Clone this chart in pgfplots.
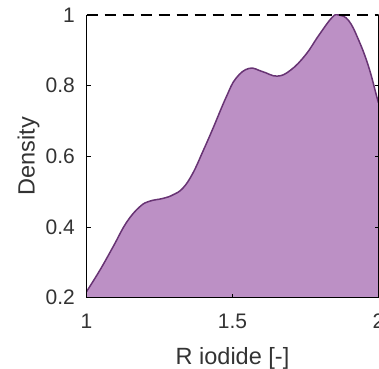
\documentclass[border=0pt]{standalone}
\usepackage{pgfplots}
\pgfplotsset{compat=1.18}
\usepackage{fontspec}
\setmainfont{Liberation Sans}
\definecolor{fillc}{RGB}{188,144,197}
\definecolor{linec}{RGB}{104,52,116}
\begin{document}
\begin{tikzpicture}
\begin{axis}[
  name=ax,
  scale only axis,
  width=292pt, height=282.7pt,
  xmin=1, xmax=2, ymin=0.2, ymax=1,
  axis on top,
  axis x line*=bottom,
  axis y line*=box,
  axis line style={-, line width=0.9pt, black},
  xtick={1,1.5,2}, ytick={0.2,0.4,0.6,0.8,1},
  yticklabels={0.2,0.4,0.6,0.8,1},
  xticklabels={1,1.5,2},
  tick align=inside,
  major tick length=4pt,
  tick style={black, line width=0.8pt},
  /pgf/number format/assume math mode=true,
  tick label style={font=\fontsize{21}{25}\selectfont, text=black!80},
  yticklabel style={anchor=east, inner sep=0pt, xshift=-11.5pt},
  xticklabel style={anchor=north, inner sep=0pt, yshift=-16pt},
  xlabel={R iodide [-]},
  ylabel={Density},
  every axis x label/.style={at={(axis description cs:0.5,-0.238)}, anchor=base, font=\fontsize{23.5}{28}\selectfont, text=black!80},
  every axis y label/.style={at={(axis description cs:-0.178,0.5)}, rotate=90, anchor=base, font=\fontsize{23.5}{28}\selectfont, text=black!80},
]
\addplot[fill=fillc, draw=none, smooth, tension=0.7] coordinates {
(1.000,0.217) (1.046,0.278) (1.091,0.344) (1.137,0.413) (1.182,0.457) (1.216,0.473)
(1.262,0.481) (1.296,0.491) (1.330,0.510) (1.364,0.552) (1.398,0.613) (1.432,0.677)
(1.478,0.767) (1.512,0.821) (1.557,0.849) (1.602,0.840) (1.653,0.827) (1.699,0.844)
(1.750,0.887) (1.796,0.943) (1.841,0.993) (1.864,1.000) (1.898,0.984) (1.932,0.929)
(1.966,0.854) (1.994,0.769) (2.000,0.752)
} \closedcycle;
\addplot[linec, line width=1.5pt, smooth, tension=0.7] coordinates {
(1.000,0.217) (1.046,0.278) (1.091,0.344) (1.137,0.413) (1.182,0.457) (1.216,0.473)
(1.262,0.481) (1.296,0.491) (1.330,0.510) (1.364,0.552) (1.398,0.613) (1.432,0.677)
(1.478,0.767) (1.512,0.821) (1.557,0.849) (1.602,0.840) (1.653,0.827) (1.699,0.844)
(1.750,0.887) (1.796,0.943) (1.841,0.993) (1.864,1.000) (1.898,0.984) (1.932,0.929)
(1.966,0.854) (1.994,0.769) (2.000,0.752)
};
\addplot[black, line width=1.5pt, dash pattern=on 11pt off 7pt] coordinates {(1,1) (2,1)};
\end{axis}
\pgfresetboundingbox
\path[use as bounding box] ([shift={(-86.5pt,-71.3pt)}]ax.south west) rectangle ([shift={(0.5pt,15pt)}]ax.north east);
\end{tikzpicture}
\end{document}
